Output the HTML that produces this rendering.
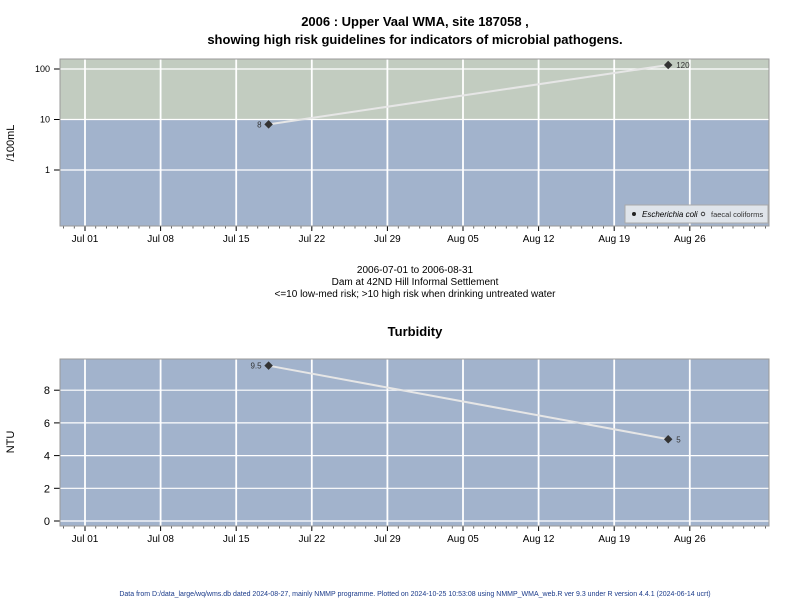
<!DOCTYPE html>
<html><head><meta charset="utf-8"><style>
body{margin:0;background:#fff;width:800px;height:600px;overflow:hidden;font-family:"Liberation Sans",sans-serif}
</style></head><body>
<svg width="800" height="600" xmlns="http://www.w3.org/2000/svg" font-family="Liberation Sans, sans-serif">
<text x="415" y="26" font-size="13" font-weight="bold" text-anchor="middle">2006 : Upper Vaal WMA, site 187058 ,</text>
<text x="415" y="44" font-size="13" font-weight="bold" text-anchor="middle">showing high risk guidelines for indicators of microbial pathogens.</text>
<text x="415" y="273" font-size="10" text-anchor="middle">2006-07-01 to 2006-08-31</text>
<text x="415" y="285" font-size="10" text-anchor="middle">Dam at 42ND Hill Informal Settlement</text>
<text x="415" y="297" font-size="10" text-anchor="middle">&lt;=10 low-med risk; &gt;10 high risk when drinking untreated water</text>
<text x="415" y="336" font-size="13" font-weight="bold" text-anchor="middle">Turbidity</text>
<text x="415" y="596" font-size="7" fill="#1a3a8a" text-anchor="middle">Data from D:/data_large/wq/wms.db dated 2024-08-27, mainly NMMP programme. Plotted on 2024-10-25 10:53:08 using NMMP_WMA_web.R ver 9.3 under R version 4.4.1 (2024-06-14 ucrt)</text>
<text transform="translate(14,143) rotate(-90)" font-size="11" text-anchor="middle">/100mL</text>
<text transform="translate(14,442) rotate(-90)" font-size="11" text-anchor="middle">NTU</text>
<g id="top"></g>
<g id="bot"></g>
<g>
<rect x="625" y="205" width="143" height="18" fill="#dfe4ea" stroke="#aaa"/>
<circle cx="634" cy="214" r="2" fill="#222"/>
<text x="642" y="217" font-size="8" font-style="italic">Escherichia coli</text>
<circle cx="703" cy="214" r="1.8" fill="none" stroke="#222" stroke-width="0.8"/>
<text x="711" y="217" font-size="7.5" fill="#333">faecal coliforms</text>
</g>
</svg>
<script>
const ecoliDates=["2006-07-18","2006-08-24"];
const ecoliValues=[8,120];
const turbDates=["2006-07-18","2006-08-24"];
const turbValues=[9.5,5];
const xTickLabels=["Jul 01","Jul 08","Jul 15","Jul 22","Jul 29","Aug 05","Aug 12","Aug 19","Aug 26"];
const topTicks=[1,10,100];
const botTicks=[0,2,4,6,8];
const NS="http://www.w3.org/2000/svg";
const day0=Date.UTC(2006,6,1);
function dayOf(s){const p=s.split("-");return (Date.UTC(+p[0],+p[1]-1,+p[2])-day0)/864e5;}
const X=d=>85+d*10.8;
const L=60,R=769;
function mk(par,tag,at){const e=document.createElementNS(NS,tag);for(const k in at)e.setAttribute(k,at[k]);par.appendChild(e);return e;}
function panel(g,top,bot,yf,ticks,regions,dates,vals,lbls){
  regions.forEach(r=>{const e=mk(g,"rect",{x:L,y:r[0],width:R-L,height:r[1]-r[0],fill:r[2]});
  
  });
  ticks.forEach(t=>{const y=yf(t);mk(g,"line",{x1:L,x2:R,y1:y,y2:y,stroke:"#fff","stroke-width":1.2});
   mk(g,"line",{x1:L-6,x2:L,y1:y,y2:y,stroke:"#000"});
   const tx=mk(g,"text",{x:L-10,y:y+(lbls?3:4),"font-size":lbls?9:11,"text-anchor":"end"});tx.textContent=t;
   
   });
  xTickLabels.forEach((s,i)=>{const x=X(i*7);mk(g,"line",{x1:x,x2:x,y1:top,y2:bot,stroke:"#fff","stroke-width":1.8});
   mk(g,"line",{x1:x,x2:x,y1:bot,y2:bot+5,stroke:"#000"});
   const tx=mk(g,"text",{x:x,y:bot+16,"font-size":10,"text-anchor":"middle"});tx.textContent=s;
   
   });
  for(let d=-2;d<=63;d++){const x=X(d);if(x<L||x>R)continue;mk(g,"line",{x1:x,x2:x,y1:bot,y2:bot+2.5,stroke:"#000","stroke-width":0.6});}
  mk(g,"rect",{x:L,y:top,width:R-L,height:bot-top,fill:"none",stroke:"#999"});
  const pts=dates.map((d,i)=>[X(dayOf(d)),yf(vals[i])]);
  const ln=mk(g,"polyline",{points:pts.map(p=>p.join(",")).join(" "),fill:"none",stroke:"#e6e6e6","stroke-width":2});
  
  
  pts.forEach((p,i)=>{const c=mk(g,"rect",{x:p[0]-3,y:p[1]-3,width:6,height:6,fill:"#333",transform:`rotate(45 ${p[0]} ${p[1]})`});
   
   
   const left=i===0;const t=mk(g,"text",{x:p[0]+(left?-7:8),y:p[1]+3,"font-size":8,fill:"#333","text-anchor":left?"end":"start"});t.textContent=vals[i];
   
   });
}
const yTop=v=>170-Math.log10(v)*50.5;
panel(document.getElementById("top"),59,226,yTop,topTicks,[[59,yTop(10),"#c2ccc0"],[yTop(10),226,"#a2b3cc"]],ecoliDates,ecoliValues,true);
const yBot=v=>521-v*16.35;
panel(document.getElementById("bot"),359,526,yBot,botTicks,[[359,526,"#a2b3cc"]],turbDates,turbValues,false);
</script>
</body></html>
